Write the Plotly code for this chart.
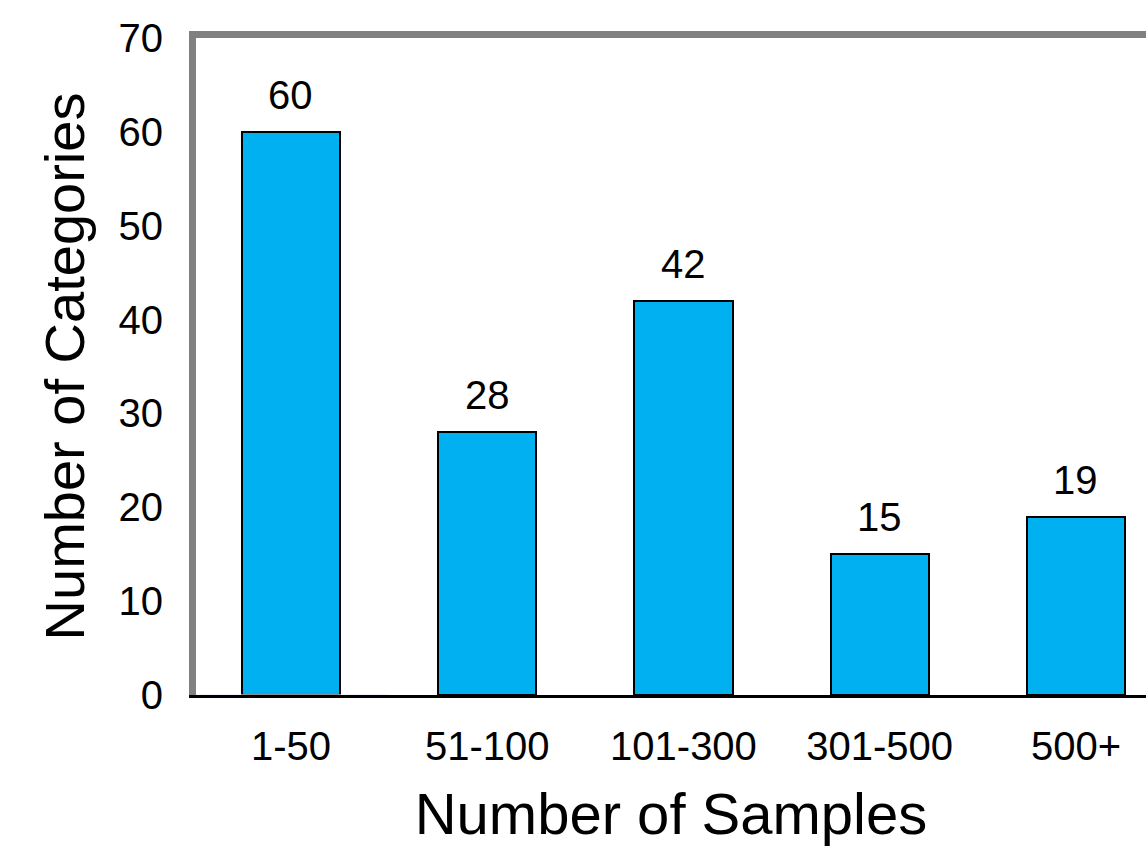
import plotly.graph_objects as go

categories = ["1-50", "51-100", "101-300", "301-500", "500+"]
values = [60, 28, 42, 15, 19]
y_ticks = [0, 10, 20, 30, 40, 50, 60, 70]

FONT = "Liberation Sans, Arial, Helvetica, sans-serif"

fig = go.Figure()
fig.add_trace(go.Bar(
    x=list(range(len(categories))),
    y=values,
    width=0.5,
    marker=dict(color="#00B0F0", line=dict(color="black", width=2)),
    hoverinfo="skip",
))

for i, v in enumerate(values):
    fig.add_annotation(x=i, y=v, text=str(v), showarrow=False,
                       yanchor="bottom", yshift=13,
                       font=dict(family=FONT, size=40, color="black"))

fig.update_layout(
    width=1146, height=846,
    margin=dict(l=196, r=0, t=38, b=149),
    paper_bgcolor="white", plot_bgcolor="white",
    showlegend=False,
    font=dict(family=FONT, color="black"),
    bargap=0,
)
fig.update_xaxes(
    range=[-0.484, 4.357],
    tickmode="array",
    tickvals=list(range(len(categories))),
    ticktext=categories,
    tickfont=dict(size=40, family=FONT, color="black"),
    ticks="", ticklabelstandoff=14,
    showline=True, linecolor="black", linewidth=3,
    showgrid=False, zeroline=False,
    title=dict(text="Number of Samples", font=dict(size=58, family=FONT, color="black"), standoff=37),
)
fig.update_yaxes(
    range=[0, 70],
    tickmode="array", tickvals=y_ticks,
    tickfont=dict(size=40, family=FONT, color="black"),
    ticks="", ticklabelstandoff=18,
    showline=True, linecolor="#808080", linewidth=7,
    showgrid=False, zeroline=False,
    title=dict(text="Number of Categories", font=dict(size=56, family=FONT, color="black"), standoff=18),
)
# top frame line via an overlaying top x-axis
fig.update_layout(xaxis2=dict(overlaying="x", side="top", matches="x", showline=True,
                              linecolor="#808080", linewidth=7, showticklabels=False,
                              ticks="", showgrid=False, zeroline=False))
fig.add_trace(go.Bar(x=[0], y=[0], xaxis="x2", marker=dict(color="rgba(0,0,0,0)"),
                     hoverinfo="skip", showlegend=False))

fig.write_html("out.html", config={"displayModeBar": False},
               post_script="document.body.style.margin='0';")
